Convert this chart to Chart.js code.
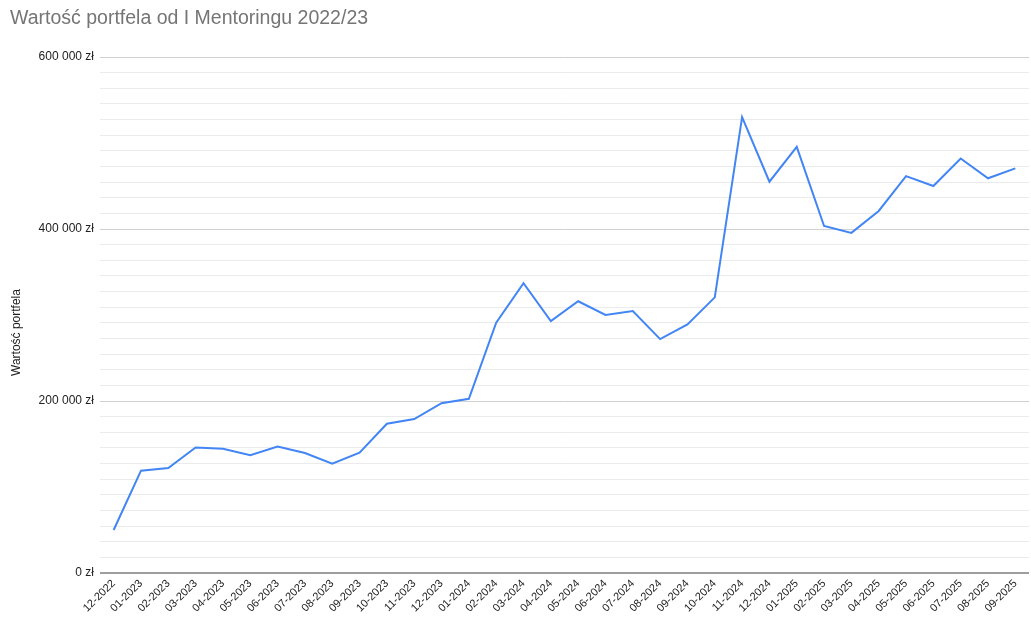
<!DOCTYPE html>
<html>
<head>
<meta charset="utf-8">
<script src="https://cdn.jsdelivr.net/npm/chart.js@4/dist/chart.umd.min.js"></script>
<style>
  html, body { margin: 0; padding: 0; background: #fff; }
  #wrap { width: 1031px; height: 626px; position: relative; }
</style>
</head>
<body>
<div id="wrap"><canvas id="c"></canvas></div>
<script>
const categories = ["12-2022","01-2023","02-2023","03-2023","04-2023","05-2023","06-2023","07-2023","08-2023","09-2023","10-2023","11-2023","12-2023","01-2024","02-2024","03-2024","04-2024","05-2024","06-2024","07-2024","08-2024","09-2024","10-2024","11-2024","12-2024","01-2025","02-2025","03-2025","04-2025","05-2025","06-2025","07-2025","08-2025","09-2025"];
const portfolioValues = [50000,119000,122000,146000,144500,137000,147000,139500,127000,140000,173500,179000,197500,202500,291000,337000,293000,316000,300000,304500,272000,289000,320500,530000,455000,495500,403500,395500,421000,461500,450000,482000,459000,470500];
const yMajorTicks = [0, 200000, 400000, 600000];
const minorPerMajor = 11;
const chartTitle = "Wartość portfela od I Mentoringu 2022/23";
const yAxisTitle = "Wartość portfela";
const seriesLabel = "Wartość portfela";

const FONT = "'Liberation Sans', Arial, sans-serif";

function fmtZl(v) {
  return Math.round(v).toString().replace(/\B(?=(\d{3})+(?!\d))/g, ' ') + ' zł';
}

const yTitlePlugin = {
  id: 'yTitlePlugin',
  afterDraw(chart) {
    const ctx = chart.ctx;
    ctx.save();
    ctx.translate(16.5, 332.5);
    ctx.rotate(-Math.PI / 2);
    ctx.font = "12px " + FONT;
    ctx.fillStyle = '#222222';
    ctx.textAlign = 'center';
    ctx.textBaseline = 'middle';
    ctx.fillText(yAxisTitle, 0, 0);
    ctx.restore();
  }
};

const yMax = yMajorTicks[yMajorTicks.length - 1];
const yStep = yMajorTicks[1] - yMajorTicks[0];

new Chart(document.getElementById('c'), {
  type: 'line',
  data: {
    labels: categories,
    datasets: [{
      label: seriesLabel,
      data: portfolioValues,
      borderColor: '#4285F4',
      backgroundColor: '#4285F4',
      borderWidth: 2,
      pointRadius: 0,
      pointHoverRadius: 0,
      tension: 0,
      fill: false
    }]
  },
  options: {
    responsive: true,
    maintainAspectRatio: false,
    animation: false,
    layout: { padding: { left: 10, right: 2, top: 0, bottom: 0 } },
    plugins: {
      legend: { display: false },
      tooltip: { enabled: false },
      title: {
        display: true,
        text: chartTitle,
        align: 'start',
        color: '#757575',
        font: { family: FONT, size: 19.5, weight: 'normal', lineHeight: 1.2 },
        padding: { top: 6.5, bottom: 27.1 }
      }
    },
    scales: {
      x: {
        type: 'category',
        offset: true,
        grid: { display: false, drawTicks: false },
        border: { display: false },
        ticks: {
          autoSkip: false,
          maxRotation: 45,
          minRotation: 45,
          padding: 4,
          color: '#222222',
          font: { family: FONT, size: 11 }
        },
        afterFit(scale) { scale.height = 53; }
      },
      y: {
        min: 0,
        max: yMax,
        border: { display: false },
        afterBuildTicks(scale) {
          const n = (yMajorTicks.length - 1) * minorPerMajor;
          const t = [];
          for (let i = 0; i <= n; i++) t.push({ value: i * yMax / n });
          scale.ticks = t;
        },
        afterFit(scale) { scale.width = 90; },
        grid: {
          drawTicks: false,
          color(ctx) {
            if (ctx.index === 0) return '#9e9e9e';
            return ctx.index % minorPerMajor === 0 ? '#d0d0d0' : '#ebebeb';
          },
          lineWidth(ctx) { return ctx.index === 0 ? 2 : 1; }
        },
        ticks: {
          autoSkip: false,
          padding: 6,
          color: '#222222',
          font: { family: FONT, size: 12 },
          callback(value, index) {
            return index % minorPerMajor === 0 ? fmtZl(index / minorPerMajor * yStep) : '';
          }
        }
      }
    }
  },
  plugins: [yTitlePlugin]
});
</script>
</body>
</html>
